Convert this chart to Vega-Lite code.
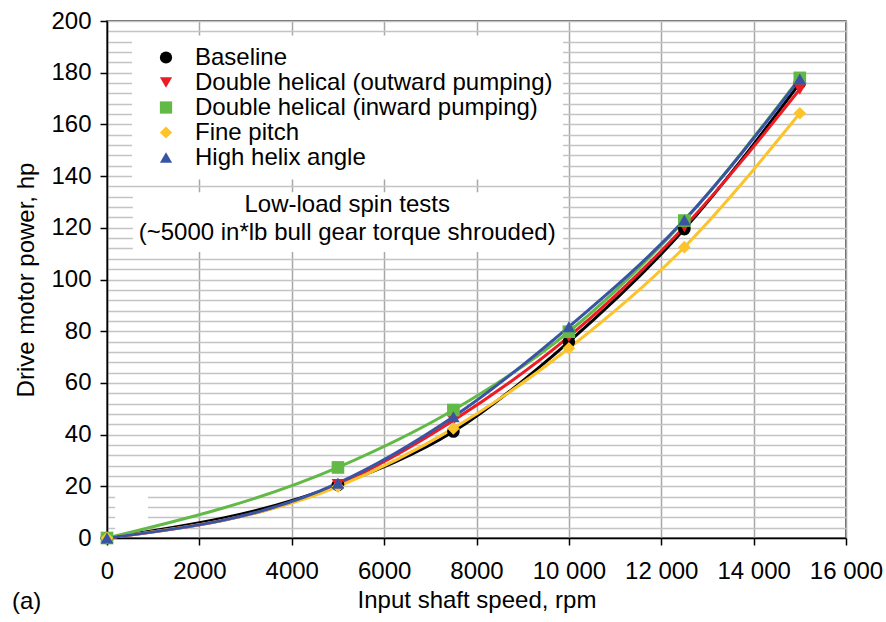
{
  "$schema": "https://vega.github.io/schema/vega-lite/v6.json",
  "width": 739,
  "height": 517,
  "autosize": "none",
  "padding": {"left": 107, "top": 21, "right": 40, "bottom": 84},
  "background": "white",
  "title": {"text": "(a)", "orient": "bottom", "anchor": "start", "frame": "group", "dx": -95, "offset": -22, "fontSize": 24, "fontWeight": "normal", "font": "Liberation Sans", "color": "black"},
  "config": {
    "view": {"stroke": "#333333", "strokeWidth": 1.5},
    "axis": {"labelFont": "Liberation Sans", "labelFontSize": 24, "labelColor": "black", "titleFont": "Liberation Sans", "titleFontSize": 24, "titleFontWeight": "normal", "titleColor": "black", "domainColor": "black", "domainWidth": 1.5, "tickColor": "black", "tickWidth": 1.5, "tickSize": 7},
    "legend": {"labelFont": "Liberation Sans"}
  },
  "data": {"values": [
    {"series": "Baseline", "rpm": 0, "hp": 0},
    {"series": "Baseline", "rpm": 5000, "hp": 20.5},
    {"series": "Baseline", "rpm": 7500, "hp": 41.2},
    {"series": "Baseline", "rpm": 10000, "hp": 75.9},
    {"series": "Baseline", "rpm": 12500, "hp": 119.5},
    {"series": "Baseline", "rpm": 15000, "hp": 176},
    {"series": "Double helical (outward pumping)", "rpm": 0, "hp": 0},
    {"series": "Double helical (outward pumping)", "rpm": 5000, "hp": 20.7},
    {"series": "Double helical (outward pumping)", "rpm": 7500, "hp": 45.5},
    {"series": "Double helical (outward pumping)", "rpm": 10000, "hp": 77.9},
    {"series": "Double helical (outward pumping)", "rpm": 12500, "hp": 120.4},
    {"series": "Double helical (outward pumping)", "rpm": 15000, "hp": 173.6},
    {"series": "Double helical (inward pumping)", "rpm": 0, "hp": 0},
    {"series": "Double helical (inward pumping)", "rpm": 5000, "hp": 27.3},
    {"series": "Double helical (inward pumping)", "rpm": 7500, "hp": 49.5},
    {"series": "Double helical (inward pumping)", "rpm": 10000, "hp": 79.8},
    {"series": "Double helical (inward pumping)", "rpm": 12500, "hp": 122.8},
    {"series": "Double helical (inward pumping)", "rpm": 15000, "hp": 178},
    {"series": "Fine pitch", "rpm": 0, "hp": 0},
    {"series": "Fine pitch", "rpm": 5000, "hp": 19.9},
    {"series": "Fine pitch", "rpm": 7500, "hp": 42.4},
    {"series": "Fine pitch", "rpm": 10000, "hp": 73.4},
    {"series": "Fine pitch", "rpm": 12500, "hp": 112.5},
    {"series": "Fine pitch", "rpm": 15000, "hp": 164.3},
    {"series": "High helix angle", "rpm": 0, "hp": 0},
    {"series": "High helix angle", "rpm": 5000, "hp": 21.2},
    {"series": "High helix angle", "rpm": 7500, "hp": 46.9},
    {"series": "High helix angle", "rpm": 10000, "hp": 81.7},
    {"series": "High helix angle", "rpm": 12500, "hp": 123},
    {"series": "High helix angle", "rpm": 15000, "hp": 177.6}
  ]},
  "encoding": {
    "x": {"field": "rpm", "type": "quantitative",
      "scale": {"domain": [0, 16000], "nice": false},
      "axis": {"title": "Input shaft speed, rpm", "values": [0, 2000, 4000, 6000, 8000, 10000, 12000, 14000, 16000],
        "labelExpr": "datum.value >= 10000 ? floor(datum.value / 1000) + ' 000' : '' + datum.value",
        "labelPadding": 14, "titlePadding": 5, "grid": true, "gridColor": "#a8a8a8", "gridWidth": 1.5, "labelFlush": false, "labelOverlap": false}},
    "y": {"field": "hp", "type": "quantitative",
      "scale": {"domain": [0, 200], "nice": false},
      "axis": {"title": "Drive motor power, hp",
        "values": [0,4,8,12,16,20,24,28,32,36,40,44,48,52,56,60,64,68,72,76,80,84,88,92,96,100,104,108,112,116,120,124,128,132,136,140,144,148,152,156,160,164,168,172,176,180,184,188,192,196,200],
        "labelExpr": "datum.value % 20 === 0 ? datum.label : ''",
        "tickOpacity": {"condition": {"test": "datum.value % 20 === 0", "value": 1}, "value": 0},
        "labelPadding": 9, "titlePadding": 12, "grid": true, "gridColor": "#c4c4c4", "gridWidth": 1.5, "labelFlush": false, "labelOverlap": false}}
  },
  "layer": [
    {
      "transform": [{"filter": "datum.series === 'Baseline' && datum.rpm === 0"}],
      "mark": {"type": "rect", "color": "white"},
      "encoding": {"x": {"datum": 175}, "x2": {"datum": 888}, "y": {"datum": 3}, "y2": {"datum": 18.6}}
    },
    {
      "transform": [{"filter": "datum.series === 'Baseline' && datum.rpm === 0"}],
      "mark": {"type": "rect", "color": "white"},
      "encoding": {"x": {"datum": 560}, "x2": {"datum": 9873}, "y": {"datum": 110.6}, "y2": {"datum": 133.8}}
    },
    {
      "transform": [{"filter": "datum.series === 'Baseline' && datum.rpm === 0"}],
      "mark": {"type": "text", "text": ["Low-load spin tests", "(~5000 in*lb bull gear torque shrouded)"], "font": "Liberation Sans", "fontSize": 24, "align": "center", "baseline": "alphabetic", "lineHeight": 28.3, "color": "black"},
      "encoding": {"x": {"datum": 5200}, "y": {"datum": 126.2}}
    },
    {
      "mark": {"type": "line", "interpolate": "monotone", "strokeWidth": 3},
      "encoding": {
        "color": {"field": "series", "type": "nominal",
          "scale": {"domain": ["Baseline", "Double helical (outward pumping)", "Double helical (inward pumping)", "Fine pitch", "High helix angle"],
            "range": ["#000000", "#ed1c24", "#62b946", "#fcc42a", "#3a54a4"]},
          "legend": {"title": null, "orient": "none", "legendX": 25, "legendY": 14.5, "fillColor": "white", "padding": 10,
            "labelFontSize": 24, "labelColor": "black", "labelFont": "Liberation Sans", "labelLimit": 1000, "symbolSize": 150, "symbolOffset": 12, "labelOffset": 17, "rowPadding": 1, "symbolStrokeWidth": 0}},
        "order": {"field": "rpm"}
      }
    },
    {
      "mark": {"type": "point", "filled": true, "opacity": 1, "size": 160},
      "encoding": {
        "color": {"field": "series", "type": "nominal",
          "legend": {"title": null, "orient": "none", "legendX": 25, "legendY": 14.5, "fillColor": "white", "padding": 10,
            "labelFontSize": 24, "labelColor": "black", "labelFont": "Liberation Sans", "labelLimit": 1000, "symbolSize": 150, "symbolOffset": 12, "labelOffset": 17, "rowPadding": 1, "symbolStrokeWidth": 0}},
        "shape": {"field": "series", "type": "nominal", "legend": null,
          "scale": {"domain": ["Baseline", "Double helical (outward pumping)", "Double helical (inward pumping)", "Fine pitch", "High helix angle"],
            "range": ["circle", "triangle-down", "square", "diamond", "triangle-up"]}}
      }
    }
  ]
}
